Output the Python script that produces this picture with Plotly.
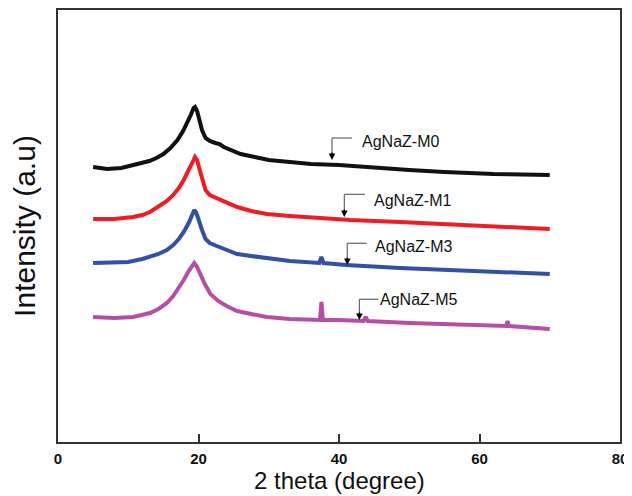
import plotly.graph_objects as go

# ---- data ----
labels = ["AgNaZ-M0", "AgNaZ-M1", "AgNaZ-M3", "AgNaZ-M5"]

m0_x = [5, 7, 9, 11, 13, 14, 15, 16, 17, 17.8, 18.4, 18.9, 19.3, 19.5, 19.8, 20.1, 20.5, 21, 21.6, 22.4, 23, 23.6, 24.5, 26, 28, 30, 33, 36, 40, 45, 50, 55, 62, 70]
m0_y = [275, 273, 274, 277, 281, 284, 288, 294, 302, 311, 319, 327, 334, 335, 331, 322, 312, 304, 301, 299, 298, 295, 292, 288, 285, 282, 280, 278, 277, 274, 272, 270, 268, 267]

m1_x = [5, 8, 10.7, 12, 13.1, 14.3, 15.5, 16.4, 17.2, 17.9, 18.6, 19.1, 19.5, 19.8, 20.1, 20.5, 21, 21.6, 22.6, 24, 25.5, 27.5, 29.7, 33, 36.8, 41.6, 48.7, 58, 70]
m1_y = [223, 223, 225, 227, 230, 235, 241, 247, 254, 262, 271, 279, 285, 282, 274, 264, 252, 247, 244, 240, 235, 231, 228, 226, 224, 222, 220, 217, 213]

m3_x = [5, 8, 10, 12, 13.1, 14.3, 15.5, 16.4, 17.2, 17.9, 18.6, 19.1, 19.4, 19.7, 20, 20.5, 21, 21.6, 22.6, 24, 25.5, 27.5, 29.7, 33, 37.2, 37.5, 37.8, 41, 48.7, 58, 70]
m3_y = [179, 179, 180, 183, 185, 188, 192, 197, 203, 210, 219, 227, 232, 229, 222, 212, 203, 199, 196, 192, 188, 186, 184, 181, 179, 185, 179, 177, 174, 171, 168]

m5_x = [5, 8, 10.7, 12, 13.1, 14.3, 15.5, 16.4, 17.2, 17.9, 18.6, 19.1, 19.4, 19.8, 20.3, 20.9, 21.7, 22.8, 24, 25.5, 27.5, 29.7, 33, 37.3, 37.5, 37.7, 40, 43.5, 43.8, 44.1, 50, 56, 63.8, 64.0, 64.2, 70]
m5_y = [125, 124, 125, 127, 129, 133, 139, 146, 154, 162, 171, 177, 179, 175, 167, 158, 148, 141, 136, 131, 128, 125, 123, 122, 140, 122, 122, 121, 125, 121, 119, 118, 116, 121, 116, 113]

x_ticks = [0, 20, 40, 60, 80]
x_title = "2 theta (degree)"
y_title = "Intensity (a.u)"

# ---- styling / placement ----
colors = ["#111111", "#ee1d25", "#3150a6", "#b64fa3"]
series = [(m0_x, m0_y), (m1_x, m1_y), (m3_x, m3_y), (m5_x, m5_y)]
# callout geometry: (text_x, text_y, bend_start_x, bend_y, tip_x, tip_y)
callouts = [
    (43.0, 300.5, 41.85, 304, 39.0, 282),
    (44.65, 242, 43.7, 247.7, 40.76, 225),
    (44.88, 195.3, 43.94, 198.7, 41.18, 177),
    (45.6, 142.7, 45.6, 142.7, 42.9, 122),
]

fig = go.Figure()
for (xs, ys), c, name in zip(series, colors, labels):
    fig.add_trace(go.Scatter(x=xs, y=ys, mode="lines", name=name,
                             line=dict(color=c, width=4)))

shapes = []
annotations = []
for (tx, ty, bx, by, px, py), lab in zip(callouts, labels):
    shapes.append(dict(type="line", xref="x", yref="y", x0=bx, y0=by, x1=px, y1=by,
                       line=dict(color="#666666", width=1.2)))
    shapes.append(dict(type="line", xref="x", yref="y", x0=px, y0=by, x1=px, y1=py + 3,
                       line=dict(color="#666666", width=1.2)))
    annotations.append(dict(x=px, y=py, xref="x", yref="y", ax=0, ay=-9,
                            showarrow=True, arrowhead=2, arrowsize=1.1, arrowwidth=1.2,
                            arrowcolor="#000000", text=""))
    annotations.append(dict(x=tx, y=ty, xref="x", yref="y", text=lab, showarrow=False,
                            xanchor="left", yanchor="middle",
                            font=dict(family="Liberation Sans, Arial", size=16, color="#111")))

# x-axis title as a paper annotation (fixed position below the tick labels)
annotations.append(dict(x=0.5, y=-0.126, xref="paper", yref="paper", text=x_title,
                        showarrow=False, xanchor="center", yanchor="bottom",
                        font=dict(family="Liberation Sans, Arial", size=24, color="#111")))

# page body has an 8px default margin, so the figure is sized/offset to compensate
fig.update_layout(
    width=624, height=488,
    margin=dict(l=50, r=12, t=2, b=54),
    paper_bgcolor="white", plot_bgcolor="white",
    showlegend=False,
    shapes=shapes, annotations=annotations,
    font=dict(family="Liberation Sans, Arial", color="#111"),
)
fig.update_xaxes(range=[0, 80], tickvals=x_ticks, ticks="inside", ticklen=8, tickwidth=1.5,
                 tickcolor="#333", showline=True, linecolor="#333", linewidth=1.5, mirror=True,
                 showgrid=False, zeroline=False, automargin=False, ticklabelstandoff=2,
                 tickfont=dict(size=15, weight="bold", color="#111"))
fig.update_yaxes(range=[0, 432], showticklabels=False, ticks="", showline=True, linecolor="#333",
                 linewidth=1.5, mirror=True, showgrid=False, zeroline=False, automargin=False,
                 title=dict(text=y_title, font=dict(size=30), standoff=14))

fig.write_html("out.html")
